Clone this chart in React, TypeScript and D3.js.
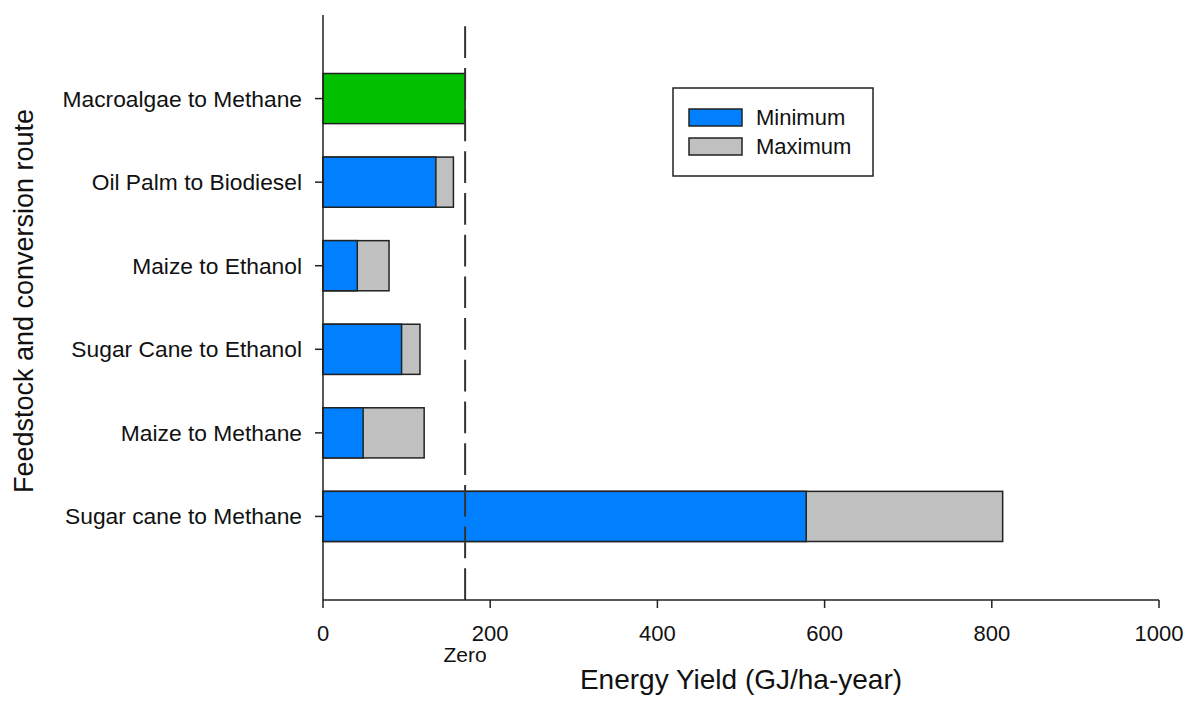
import React from "react";
import * as d3 from "d3";

const categories = [
  "Sugar cane to Methane",
  "Maize to Methane",
  "Sugar Cane to Ethanol",
  "Maize to Ethanol",
  "Oil Palm to Biodiesel",
  "Macroalgae to Methane",
];
const minimumValues = [578, 48, 94, 41, 135, 170];
const maximumValues = [813, 121, 116, 79, 156, 170];
const singleColorCategory = "Macroalgae to Methane";
const xTicks = [0, 200, 400, 600, 800, 1000];
const zeroLine = 170;

const W = 1200;
const H = 713;
const BLUE = "#0080FF";
const GRAY = "#C0C0C0";
const GREEN = "#00C000";
const FONT = "Liberation Sans, Arial, sans-serif";

export default function App() {
  const x = d3.scaleLinear().domain([0, 1000]).range([323, 1159]);
  const y = d3.scaleLinear().domain([0, 7]).range([600, 15]);
  const barH = y(0) - y(0.6);

  return (
    <svg
      width={W}
      height={H}
      viewBox={`0 0 ${W} ${H}`}
      style={{ position: "absolute", left: 0, top: 0, background: "#fff" }}
      fontFamily={FONT}
    >
      {categories.map((c, i) => {
        const yc = y(i + 1);
        const isGreen = c === singleColorCategory;
        return (
          <g key={c}>
            {!isGreen && (
              <rect
                x={x(0)}
                y={yc - barH / 2}
                width={x(maximumValues[i]) - x(0)}
                height={barH}
                fill={GRAY}
                stroke="#222"
                strokeWidth={1.5}
              />
            )}
            <rect
              x={x(0)}
              y={yc - barH / 2}
              width={x(minimumValues[i]) - x(0)}
              height={barH}
              fill={isGreen ? GREEN : BLUE}
              stroke="#222"
              strokeWidth={1.5}
            />
            <line x1={315} x2={x(0)} y1={yc} y2={yc} stroke="#222" strokeWidth={1.5} />
            <text x={302} y={yc} dy="0.35em" textAnchor="end" fontSize={22.8} fill="#111">
              {c}
            </text>
          </g>
        );
      })}

      {/* dashed zero line, drawn from the axis upward */}
      <line
        x1={x(zeroLine)}
        x2={x(zeroLine)}
        y1={y(0)}
        y2={y(7) + 11}
        stroke="#333"
        strokeWidth={2}
        strokeDasharray="31.7,10"
      />

      {/* axes */}
      <line x1={x(0)} x2={x(0)} y1={y(7)} y2={y(0)} stroke="#222" strokeWidth={1.5} />
      <line x1={x(0)} x2={x(1000)} y1={y(0)} y2={y(0)} stroke="#222" strokeWidth={1.5} />
      {xTicks.map((t) => (
        <g key={t}>
          <line x1={x(t)} x2={x(t)} y1={y(0)} y2={y(0) + 8} stroke="#222" strokeWidth={1.5} />
          <text x={x(t)} y={641} textAnchor="middle" fontSize={22} fill="#111">
            {t}
          </text>
        </g>
      ))}
      <text x={x(zeroLine)} y={662} textAnchor="middle" fontSize={21} fill="#111">
        Zero
      </text>

      <text x={741} y={689} textAnchor="middle" fontSize={28} fill="#111">
        Energy Yield (GJ/ha-year)
      </text>
      <text
        transform={`translate(33,${301}) rotate(-90)`}
        textAnchor="middle"
        fontSize={27}
        fill="#111"
      >
        Feedstock and conversion route
      </text>

      {/* legend */}
      <rect x={673} y={88} width={200} height={88} fill="#fff" stroke="#222" strokeWidth={1.5} />
      <rect x={689} y={109} width={53} height={17} fill={BLUE} stroke="#222" strokeWidth={1.5} />
      <rect x={689} y={138} width={53} height={17} fill={GRAY} stroke="#222" strokeWidth={1.5} />
      <text x={756} y={125} fontSize={22} fill="#111">Minimum</text>
      <text x={756} y={154} fontSize={22} fill="#111">Maximum</text>
    </svg>
  );
}
